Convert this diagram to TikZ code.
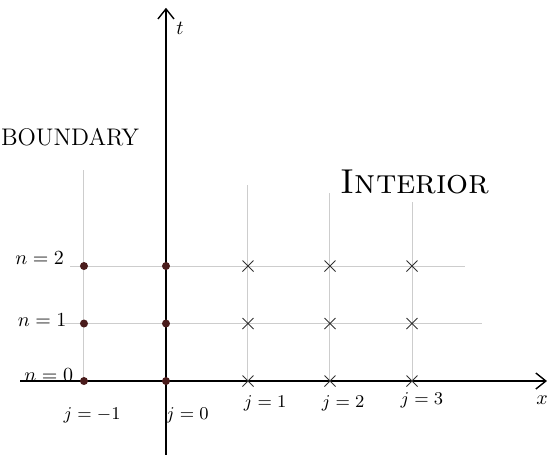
\documentclass[tikz,border=0pt]{standalone}
\usepackage{amsmath}
\usepackage{xcolor}
\usepackage{tikz}
\usetikzlibrary{arrows.meta, shapes.misc}
\definecolor{dotbrown}{RGB}{74,28,28}
\definecolor{gridgrey}{RGB}{205,205,205}

\begin{document}
\begin{tikzpicture}[
  x=41pt, y=28.75pt,
  axis/.style={-{Straight Barb[length=5pt, width=8pt]}, line width=0.7pt},
  gridline/.style={draw=gridgrey, line width=0.5pt},
  bdot/.style={circle, fill=dotbrown, inner sep=0pt, minimum size=4pt},
  icross/.style={cross out, draw=black!80, inner sep=0pt, minimum size=5pt, line width=0.5pt},
  lbl/.style={inner sep=1pt},
  jlbl/.style={lbl, font=\small},
]
\useasboundingbox (-2.024,-1.287) rectangle (4.695,6.626);

%% --- Grid lines ---
\foreach \j/\top in {-1/3.67, 1/3.41, 2/3.27, 3/3.11}
  \draw[gridline] (\j,0) -- (\j,\top);
\draw[gridline] (-1.29,1) -- (3.85,1);
\draw[gridline] (-1.17,2) -- (3.65,2);

%% --- Axes ---
\coordinate (xstart) at (-1.78,0);
\coordinate (xend)   at (4.646,0);
\coordinate (tstart) at (0,-1.28);
\coordinate (tend)   at (0,6.49);
\draw[axis] (xstart) -- (xend);
\draw[axis] (tstart) -- (tend);
\node[lbl] (tlab) at (0.17,6.14) {$t$};
\node[lbl] (xlab) at (4.585,-0.33) {$x$};

%% --- Boundary points ---
\foreach \n in {0,1,2} {
  \node[bdot] (b-m1-\n) at (-1,\n) {};
  \node[bdot] (b-0-\n)  at (0,\n)  {};
}

%% --- Interior points ---
\foreach \j in {1,2,3}
  \foreach \n in {0,1,2}
    \node[icross] (i-\j-\n) at (\j,\n) {};

%% --- Labels ---
\node[lbl] (bnd)  at (-1.17,4.24) {\large BOUNDARY};
\node[lbl] (intr) at (3.04,3.46)  {\LARGE\textsc{Interior}};
\foreach \n/\xx/\yy in {0/-1.43/0.10, 1/-1.51/1.06, 2/-1.54/2.14}
  \node[lbl] (nlab-\n) at (\xx,\yy) {$n=\n$};
\node[jlbl] (jlab-m1) at (-0.90,-0.59) {$j=-1$};
\node[jlbl] (jlab-0)  at (0.26,-0.59)  {$j=0$};
\node[jlbl] (jlab-1)  at (1.21,-0.38)  {$j=1$};
\node[jlbl] (jlab-2)  at (2.16,-0.38)  {$j=2$};
\node[jlbl] (jlab-3)  at (3.12,-0.33)  {$j=3$};

\end{tikzpicture}
\end{document}
